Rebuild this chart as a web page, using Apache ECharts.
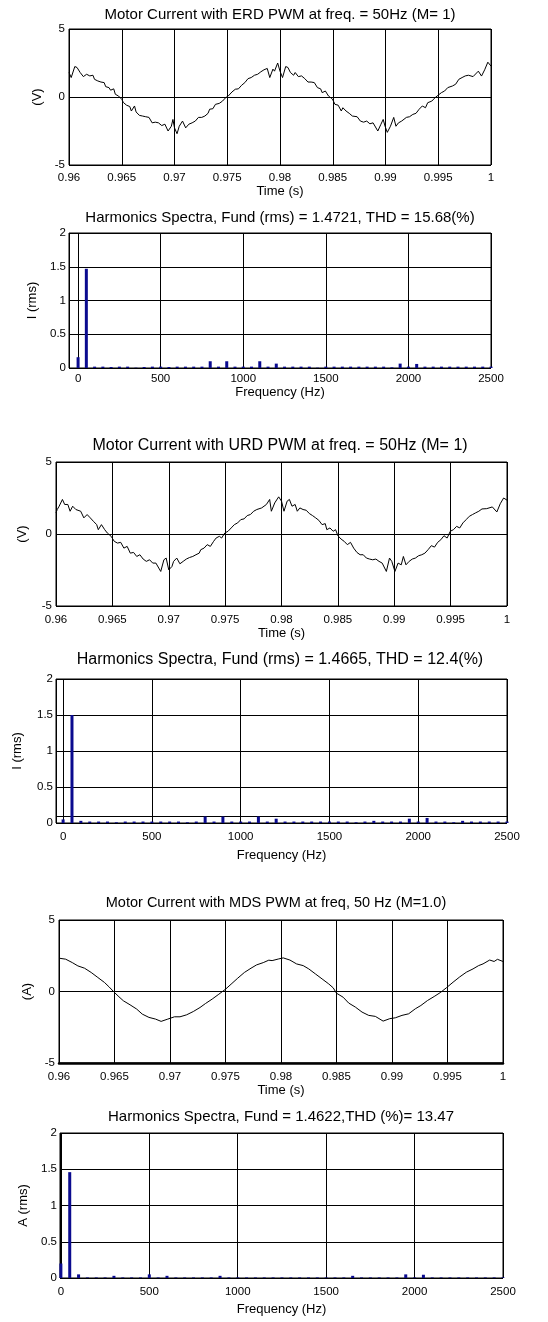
<!DOCTYPE html>
<html>
<head>
<meta charset="utf-8">
<script src="https://cdn.jsdelivr.net/npm/echarts@6/dist/echarts.min.js"></script>
<style>html,body{margin:0;padding:0;background:#fff}#c{width:548px;height:1322px}</style>
</head>
<body>
<div id="c"></div>
<script>
// ---------- DATA ----------
const titles = [
  'Motor Current with ERD PWM at freq. = 50Hz (M= 1)',
  'Harmonics Spectra, Fund (rms) = 1.4721, THD = 15.68(%)',
  'Motor Current with URD PWM at freq. = 50Hz (M= 1)',
  'Harmonics Spectra, Fund (rms) = 1.4665, THD = 12.4(%)',
  'Motor Current with MDS PWM at freq, 50 Hz (M=1.0)',
  'Harmonics Spectra, Fund = 1.4622,THD (%)= 13.47'
];
const yNames = ['(V)', 'I (rms)', '(V)', 'I (rms)', '(A)', 'A (rms)'];
const xNames = ['Time (s)', 'Frequency (Hz)', 'Time (s)', 'Frequency (Hz)', 'Time (s)', 'Frequency (Hz)'];

const erdT = [0.96,0.96021,0.96055,0.96076,0.96106,0.96121,0.96136,0.96167,0.96197,0.96227,
  0.96242,0.96273,0.96303,0.96333,0.96348,0.96379,0.96394,0.96424,0.96439,0.9647,
  0.965,0.96515,0.96545,0.96576,0.96591,0.96621,0.96636,0.96667,0.96697,0.96727,
  0.96758,0.96788,0.96818,0.96848,0.96879,0.96909,0.96939,0.9697,0.96985,0.97,
  0.97024,0.97045,0.97076,0.97106,0.97136,0.97167,0.97197,0.97227,0.97258,0.97288,
  0.97318,0.97333,0.97364,0.97388,0.97424,0.97455,0.97485,0.97509,0.97545,0.97576,
  0.97606,0.97636,0.97667,0.97697,0.97727,0.97758,0.97788,0.97818,0.97848,0.97879,
  0.97903,0.97933,0.97948,0.97978,0.98,0.98024,0.98054,0.98075,0.98099,0.98129,
  0.98144,0.98174,0.98204,0.98235,0.98265,0.98295,0.98325,0.98355,0.98385,0.984,
  0.9843,0.9846,0.98497,0.98521,0.98551,0.98581,0.98596,0.98626,0.98656,0.98686,
  0.98731,0.98762,0.98792,0.98822,0.98852,0.98882,0.98927,0.98957,0.98978,0.98996,
  0.99017,0.99047,0.99078,0.99099,0.99123,0.99153,0.99198,0.99228,0.99259,0.99289,
  0.99319,0.99349,0.99379,0.994,0.99439,0.9947,0.99497,0.9953,0.9956,0.9959,
  0.99635,0.99665,0.99695,0.99726,0.99756,0.99786,0.9983,0.9988,0.9991,0.9994,0.9997,1.0];
const erdV = [1.8,1.43,2.24,2.17,1.8,1.9,1.5,1.67,1.55,1.6,
  1.3,1.18,1.1,1.06,0.76,0.69,0.5,0.6,0.2,0.07,
  -0.17,-0.4,-0.6,-0.7,-1.03,-0.66,-1.1,-1.35,-1.4,-1.45,
  -1.5,-1.9,-1.85,-1.9,-2.1,-2.0,-2.5,-2.15,-1.65,-2.27,
  -2.7,-2.15,-1.77,-2.27,-2.0,-1.9,-1.77,-1.5,-1.5,-1.4,
  -1.2,-0.9,-0.86,-0.54,-0.47,-0.3,-0.05,0.07,0.37,0.57,
  0.6,0.86,1.06,1.35,1.43,1.6,1.67,1.85,2.0,2.1,
  1.43,2.05,1.9,2.5,1.9,1.43,2.24,2.17,1.8,1.6,
  1.8,1.5,1.55,1.35,1.1,1.1,1.06,0.69,0.6,0.32,
  0.44,0.07,-0.15,-0.54,-0.6,-1.03,-0.79,-1.03,-1.2,-1.4,
  -1.45,-1.77,-1.85,-1.77,-1.97,-1.9,-2.5,-2.0,-1.65,-2.15,
  -2.6,-2.15,-1.5,-2.15,-1.9,-1.77,-1.5,-1.45,-1.28,-1.2,
  -0.9,-0.66,-0.79,-0.42,-0.3,-0.05,0.12,0.32,0.44,0.69,
  0.81,0.94,1.3,1.43,1.55,1.6,1.5,1.9,1.54,2.0,2.56,2.27];

const urdT = [0.96,0.96011,0.96028,0.96057,0.96077,0.96105,0.96125,0.96148,0.96176,0.96219,
  0.96247,0.96276,0.96304,0.96332,0.96361,0.96375,0.96403,0.96432,0.96455,0.96489,
  0.96517,0.96545,0.96574,0.96602,0.96631,0.96659,0.96688,0.96716,0.96744,0.96773,
  0.96801,0.9683,0.96858,0.96886,0.96929,0.96957,0.96977,0.97,0.97028,0.97043,
  0.97071,0.97099,0.97128,0.97156,0.97185,0.97213,0.97241,0.9727,0.97284,0.97313,
  0.97341,0.97369,0.97398,0.9742,0.97449,0.97469,0.97497,0.97526,0.97554,0.97582,
  0.97611,0.97639,0.97668,0.97696,0.97724,0.97753,0.97781,0.97824,0.97866,0.97895,
  0.9791,0.9794,0.97952,0.97975,0.98,0.98022,0.9805,0.9807,0.98093,0.98121,
  0.9814,0.98163,0.98191,0.98219,0.98247,0.98275,0.98303,0.98331,0.9836,0.98388,
  0.98402,0.9843,0.98458,0.9848,0.985,0.98528,0.98556,0.98584,0.98612,0.9864,
  0.98669,0.98697,0.98725,0.98753,0.98781,0.98809,0.98837,0.98865,0.98893,0.9893,
  0.98958,0.98978,0.99006,0.99034,0.99062,0.99081,0.99104,0.99132,0.9916,0.99188,
  0.99216,0.99244,0.99272,0.993,0.99329,0.99357,0.99385,0.99413,0.99441,0.99469,
  0.99497,0.99525,0.99553,0.99581,0.99609,0.99638,0.99666,0.99694,0.99722,0.9975,
  0.99778,0.9982,0.9987,0.9991,0.9994,0.9997,1.0];
const urdV = [1.47,1.7,1.93,2.4,2.05,2.05,1.58,1.93,1.7,1.58,
  1.12,1.35,1.12,0.88,0.65,0.3,0.65,0.3,0.07,-0.16,
  -0.51,-0.63,-0.58,-0.98,-0.86,-1.33,-1.28,-1.56,-1.44,-1.74,
  -1.9,-1.79,-2.02,-2.02,-2.6,-1.79,-1.67,-2.49,-2.26,-1.9,
  -1.67,-2.07,-1.9,-1.74,-1.63,-1.56,-1.44,-1.33,-1.09,-0.98,
  -0.74,-0.86,-0.51,-0.28,-0.16,-0.28,0.07,0.19,0.42,0.65,
  0.77,1.0,1.05,1.28,1.35,1.58,1.7,1.81,2.05,2.4,
  1.58,2.16,2.28,2.58,2.28,1.58,2.28,2.4,1.93,2.05,
  1.58,1.81,1.7,1.65,1.42,1.28,1.12,0.95,0.65,0.72,
  0.3,0.42,0.19,0.3,-0.12,-0.35,-0.51,-0.74,-0.58,-0.98,
  -1.28,-1.44,-1.44,-1.67,-1.74,-1.79,-1.74,-1.9,-2.02,-2.6,
  -1.67,-1.9,-2.6,-2.02,-2.14,-1.56,-2.14,-1.9,-1.74,-1.67,
  -1.51,-1.44,-1.33,-1.09,-0.81,-0.91,-0.58,-0.4,-0.12,-0.28,
  0.19,0.3,0.53,0.42,0.77,1.0,1.23,1.35,1.47,1.58,
  1.74,1.76,1.88,1.53,2.1,2.5,2.35];

const mdsT = [0.96,0.9606,0.9612,0.9617,0.9623,0.9629,0.9635,0.9641,0.9645,0.965,
  0.9654,0.9658,0.9664,0.967,0.9675,0.9681,0.9687,0.9692,0.9698,0.9704,
  0.9709,0.9715,0.9721,0.9727,0.9732,0.9738,0.9744,0.975,0.9755,0.9761,
  0.9767,0.9773,0.9778,0.9784,0.9789,0.9792,0.9798,0.9802,0.9808,0.9814,
  0.982,0.9825,0.9831,0.9837,0.9843,0.9847,0.985,0.9856,0.9861,0.9867,
  0.9873,0.9879,0.9885,0.9892,0.9898,0.9903,0.9909,0.9915,0.9921,0.9926,
  0.9932,0.9938,0.9944,0.9949,0.9955,0.9961,0.9967,0.9973,0.9978,0.9982,
  0.9988,0.9992,0.9995,1.0];
const mdsV = [2.33,2.26,2.02,1.79,1.63,1.33,0.98,0.63,0.33,-0.07,
  -0.37,-0.65,-0.93,-1.23,-1.58,-1.81,-1.93,-2.09,-1.93,-1.77,
  -1.77,-1.63,-1.4,-1.12,-0.84,-0.53,-0.19,0.16,0.51,0.93,
  1.33,1.63,1.86,2.02,2.19,2.16,2.28,2.35,2.2,1.93,
  1.81,1.58,1.23,0.88,0.53,0.26,-0.12,-0.4,-0.81,-1.09,
  -1.44,-1.67,-1.74,-2.07,-1.9,-1.84,-1.67,-1.56,-1.21,-0.98,
  -0.63,-0.35,-0.05,0.26,0.65,1.02,1.35,1.58,1.81,1.93,
  2.2,2.1,2.25,2.1];

const specFreq = [0,50,100,150,200,250,300,350,400,450,500,550,600,650,700,750,800,850,900,950,
  1000,1050,1100,1150,1200,1250,1300,1350,1400,1450,1500,1550,1600,1650,1700,1750,1800,1850,1900,1950,
  2000,2050,2100,2150,2200,2250,2300,2350,2400,2450,2500];
const erdSpec = [0.16,1.47,0.02,0.02,0.015,0.02,0.02,0.005,0.015,0.02,0.02,0.015,0.02,0.02,0.02,0.02,0.1,0.02,0.1,0.02,
  0.02,0.02,0.1,0.02,0.065,0.02,0.02,0.02,0.02,0.005,0.02,0.02,0.02,0.02,0.02,0.02,0.02,0.02,0.01,0.065,
  0.02,0.06,0.02,0.02,0.02,0.02,0.02,0.02,0.02,0.02,0.02];
const urdSpec = [0.05,1.5,0.03,0.02,0.02,0.02,0.01,0.02,0.02,0.02,0.02,0.02,0.02,0.02,0.01,0.02,0.09,0.02,0.09,0.02,
  0.02,0.02,0.09,0.02,0.06,0.02,0.02,0.02,0.02,0.02,0.02,0.02,0.02,0.01,0.02,0.03,0.02,0.02,0.02,0.06,
  0.02,0.07,0.02,0.02,0.01,0.03,0.02,0.02,0.02,0.02,0.02];
const mdsSpec = [0.2,1.46,0.05,0.008,0.008,0.008,0.03,0.008,0.008,0.008,0.05,0.008,0.03,0.008,0.008,0.008,0.008,0.008,0.03,0.008,
  0.008,0.008,0.008,0.008,0.008,0.008,0.008,0.008,0.008,0.008,0.008,0.008,0.008,0.03,0.008,0.008,0.008,0.008,0.008,0.05,
  0.008,0.045,0.008,0.008,0.008,0.008,0.008,0.008,0.008,0.008,0.008];
const timeTicks = [0.96, 1.0, 0.005];
const voltTicks = [-5, 5, 5];
const specTicks = [0, 2, 0.5];
const thresholdLine = 0.1;   // horizontal line in URD spectrum

// ---------- LAYOUT ----------
const FONT = '"Liberation Sans", Arial, Helvetica, sans-serif';
const panels = [
  {left:69, right:57, top:29,   height:136, kind:'t', tx:280, ty:15,   tf:15,   yGap:24, xGap:20, lm:7, xmin:null},
  {left:69, right:57, top:233,  height:135, kind:'s', tx:280, ty:218,  tf:15,   yGap:29, xGap:11, lm:5, xmin:-55},
  {left:56, right:41, top:462,  height:144, kind:'t', tx:280, ty:446,  tf:16,   yGap:27, xGap:19, lm:8, xmin:null},
  {left:56, right:41, top:679,  height:144, kind:'s', tx:280, ty:660,  tf:16,   yGap:32, xGap:26, lm:8, xmin:-40},
  {left:59, right:45, top:920,  height:143, kind:'t', tx:276, ty:903,  tf:14.5, yGap:25, xGap:20, lm:8, xmin:null},
  {left:60, right:45, top:1133, height:145, kind:'s', tx:281, ty:1117, tf:15,   yGap:30, xGap:25, lm:8, xmin:-5}
];
const lineData = [[erdT, erdV], null, [urdT, urdV], null, [mdsT, mdsV], null];
const barData = [null, erdSpec, null, urdSpec, null, mdsSpec];

const chart = echarts.init(document.getElementById('c'), null, {renderer:'canvas'});
const grid = [], xAxis = [], yAxis = [], series = [], graphic = [];
panels.forEach((p, i) => {
  grid.push({left:p.left, right:p.right, top:p.top, height:p.height, show:true,
    borderColor:'#000', borderWidth:1, backgroundColor:'#fff', containLabel:false});
  const lab = {color:'#000', fontSize:11.5, fontFamily:FONT};
  const nameStyle = {color:'#000', fontSize:13, fontFamily:FONT};
  if (p.kind === 't') {
    xAxis.push({type:'value', gridIndex:i, min:timeTicks[0], max:timeTicks[1], interval:timeTicks[2],
      axisLine:{show:i===4, onZero:false, lineStyle:{color:'#000', width:2.5}}, axisTick:{show:false},
      splitLine:{show:true, lineStyle:{color:'#000', width:1}},
      axisLabel:Object.assign({margin:p.lm, formatter:v => String(+(+v).toFixed(4))}, lab),
      name:xNames[i], nameLocation:'middle', nameGap:p.xGap,
      nameTextStyle:Object.assign({verticalAlign:'top'}, nameStyle)});
    yAxis.push({type:'value', gridIndex:i, min:voltTicks[0], max:voltTicks[1], interval:voltTicks[2],
      axisLine:{show:false}, axisTick:{show:false},
      splitLine:{show:true, lineStyle:{color:'#000', width:1}},
      axisLabel:Object.assign({margin:4}, lab),
      name:yNames[i], nameLocation:'middle', nameGap:p.yGap, nameTextStyle:nameStyle});
    const d = lineData[i];
    series.push({type:'line', xAxisIndex:i, yAxisIndex:i, showSymbol:false, symbol:'none',
      data:d[0].map((t, k) => [t, d[1][k]]), lineStyle:{color:'#000', width:1}, silent:true, z:5});
  } else {
    xAxis.push({type:'value', gridIndex:i, min:p.xmin, max:2500, splitNumber:5,
      axisLine:{show:false, onZero:false}, axisTick:{show:false},
      splitLine:{show:true, lineStyle:{color:'#000', width:1}},
      axisLabel:Object.assign({margin:p.lm, showMinLabel:true,
        formatter:v => (Math.abs(v % 500) < 1e-6 ? String(v) : '')}, lab),
      name:xNames[i], nameLocation:'middle', nameGap:p.xGap,
      nameTextStyle:Object.assign({verticalAlign:'top'}, nameStyle)});
    yAxis.push({type:'value', gridIndex:i, min:specTicks[0], max:specTicks[1], interval:specTicks[2],
      axisLine:{show:false}, axisTick:{show:false},
      splitLine:{show:true, lineStyle:{color:'#000', width:1}},
      axisLabel:Object.assign({margin:3}, lab),
      name:yNames[i], nameLocation:'middle', nameGap:p.yGap, nameTextStyle:nameStyle});
    const s = {type:'bar', xAxisIndex:i, yAxisIndex:i, barWidth:3,
      data:specFreq.map((f, k) => [f, barData[i][k]]),
      itemStyle:{color:'#0b0b8f'}, silent:true, z:5};
    if (i === 3) {
      s.markLine = {silent:true, symbol:'none', label:{show:false},
        lineStyle:{color:'#000', type:'solid', width:1}, data:[{yAxis:thresholdLine}]};
    }
    series.push(s);
  }
  graphic.push({type:'text', x:p.tx, y:p.ty, style:{text:titles[i], fill:'#000',
    font:p.tf + 'px ' + FONT, align:'center', verticalAlign:'middle'}, silent:true});
});

chart.setOption({animation:false, backgroundColor:'#fff', grid, xAxis, yAxis, series, graphic});
</script>
</body>
</html>
